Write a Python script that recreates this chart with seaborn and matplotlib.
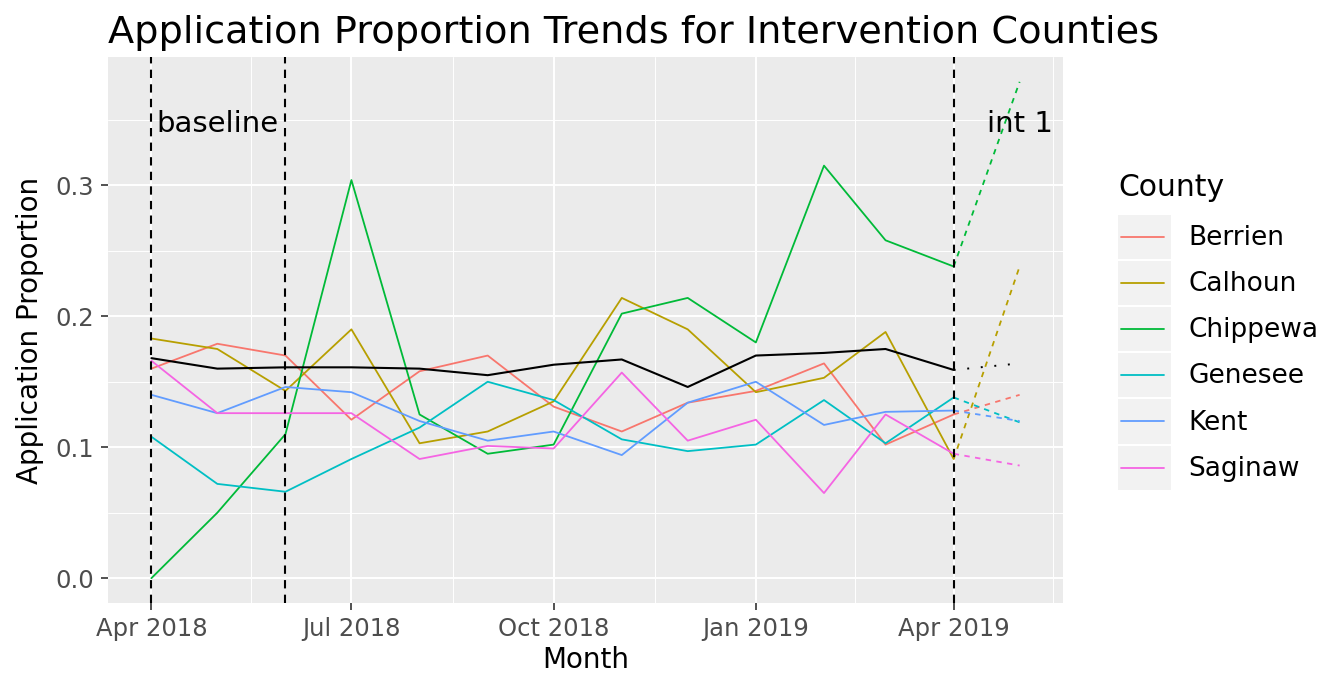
import numpy as np
import pandas as pd
import seaborn as sns
import matplotlib.pyplot as plt
import matplotlib.dates as mdates
from matplotlib.legend_handler import HandlerBase
from matplotlib.lines import Line2D
from matplotlib.patches import Rectangle

# monthly application proportions, Apr 2018 - Apr 2019
months = ["2018-04-01", "2018-05-01", "2018-06-01", "2018-07-01", "2018-08-01",
          "2018-09-01", "2018-10-01", "2018-11-01", "2018-12-01", "2019-01-01",
          "2019-02-01", "2019-03-01", "2019-04-01"]
counties = ["Berrien", "Calhoun", "Chippewa", "Genesee", "Kent", "Saginaw"]

berrien = [0.160, 0.179, 0.170, 0.121, 0.158, 0.170, 0.131, 0.112, 0.134, 0.143, 0.164, 0.102, 0.125]
calhoun = [0.183, 0.175, 0.143, 0.190, 0.103, 0.112, 0.135, 0.214, 0.190, 0.142, 0.153, 0.188, 0.091]
chippewa = [0.000, 0.050, 0.110, 0.304, 0.125, 0.095, 0.102, 0.202, 0.214, 0.180, 0.315, 0.258, 0.238]
genesee = [0.108, 0.072, 0.066, 0.091, 0.115, 0.150, 0.136, 0.106, 0.097, 0.102, 0.136, 0.103, 0.138]
kent = [0.140, 0.126, 0.146, 0.142, 0.120, 0.105, 0.112, 0.094, 0.134, 0.150, 0.117, 0.127, 0.128]
saginaw = [0.166, 0.126, 0.126, 0.126, 0.091, 0.101, 0.099, 0.157, 0.105, 0.121, 0.065, 0.125, 0.095]
overall = [0.168, 0.160, 0.161, 0.161, 0.160, 0.155, 0.163, 0.167, 0.146, 0.170, 0.172, 0.175, 0.159]

# intervention-period projection (Apr 2019 -> May 2019)
proj_months = ["2019-04-01", "2019-05-01"]
berrien_proj = [0.125, 0.140]
calhoun_proj = [0.091, 0.238]
chippewa_proj = [0.238, 0.379]
genesee_proj = [0.138, 0.119]
kent_proj = [0.128, 0.120]
saginaw_proj = [0.095, 0.086]
overall_proj = [0.159, 0.164]

phase_starts = ["2018-04-01", "2018-06-01", "2019-04-01"]
phase_labels = ["baseline", "int 1"]
phase_label_months = ["2018-05-01", "2019-05-01"]
phase_label_y = 0.347

palette = ["#F8766D", "#B79F00", "#00BA38", "#00BFC4", "#619CFF", "#F564E3"]

df = pd.DataFrame({
    "Month": np.tile(pd.to_datetime(months), len(counties)),
    "County": np.repeat(counties, len(months)),
    "Proportion": np.concatenate([berrien, calhoun, chippewa, genesee, kent, saginaw]),
})
proj = pd.DataFrame({
    "Month": np.tile(pd.to_datetime(proj_months), len(counties)),
    "County": np.repeat(counties, len(proj_months)),
    "Proportion": np.concatenate([berrien_proj, calhoun_proj, chippewa_proj,
                                  genesee_proj, kent_proj, saginaw_proj]),
})
avg = pd.DataFrame({"Month": pd.to_datetime(months), "Proportion": overall})
avg_proj = pd.DataFrame({"Month": pd.to_datetime(proj_months), "Proportion": overall_proj})

sns.set_theme(style="darkgrid", rc={
    "axes.facecolor": "#EBEBEB",
    "grid.color": "white",
    "axes.edgecolor": "none",
    "text.color": "black",
    "axes.labelcolor": "black",
})
plt.rcParams["font.family"] = ["DejaVu Sans"]

fig, ax = plt.subplots(figsize=(13.38, 6.77), dpi=100)
fig.subplots_adjust(left=0.0807, right=0.7945, top=0.9158, bottom=0.1093)

sns.lineplot(data=df, x="Month", y="Proportion", hue="County", hue_order=counties,
             palette=palette, lw=1.3, errorbar=None, ax=ax)
sns.lineplot(data=proj, x="Month", y="Proportion", hue="County", hue_order=counties,
             palette=palette, lw=1.3, linestyle=(0, (3, 3)), errorbar=None,
             legend=False, ax=ax)
sns.lineplot(data=avg, x="Month", y="Proportion", color="black", lw=1.5,
             errorbar=None, legend=False, ax=ax)
sns.lineplot(data=avg_proj, x="Month", y="Proportion", color="black", lw=1.4,
             linestyle=(0, (1, 6)), errorbar=None, legend=False, ax=ax)

for d in phase_starts:
    ax.axvline(pd.Timestamp(d), color="black", lw=1.5, linestyle=(0, (4, 3)), zorder=5)
for lab, d in zip(phase_labels, phase_label_months):
    ax.text(pd.Timestamp(d), phase_label_y, lab, ha="center", va="center",
            fontsize=21, color="black", zorder=6)

major = mdates.date2num(pd.to_datetime(["2018-04-01", "2018-07-01", "2018-10-01",
                                        "2019-01-01", "2019-04-01"]))
ax.set_xticks(major)
ax.xaxis.set_major_formatter(mdates.DateFormatter("%b %Y"))
step = np.diff(major)
minor_x = np.concatenate([[major[0] - step[0] / 2], major[:-1] + step / 2,
                          [major[-1] + step[-1] / 2]])
ax.set_xticks(minor_x, minor=True)
ax.set_yticks([0.0, 0.1, 0.2, 0.3])
ax.set_yticks([0.05, 0.15, 0.25, 0.35], minor=True)
ax.yaxis.set_major_formatter(plt.FormatStrFormatter("%.1f"))

# ggplot-like expansion of limits (set after ticks so they don't widen the view)
x0 = mdates.date2num(pd.Timestamp(months[0]))
x1 = mdates.date2num(pd.Timestamp(proj_months[-1]))
xpad = 0.05 * (x1 - x0)
ax.set_xlim(x0 - xpad, x1 + xpad)
ymax = max(chippewa_proj)
ax.set_ylim(-0.05 * ymax, 1.05 * ymax)

ax.grid(which="major", color="white", lw=1.4)
ax.grid(which="minor", color="white", lw=0.7)
ax.tick_params(which="major", length=5, width=1.2, color="#333333",
               labelsize=17.5, labelcolor="#4D4D4D", pad=5,
               bottom=True, left=True)
ax.tick_params(which="minor", length=0)

ax.set_xlabel("Month", fontsize=20, labelpad=4, color="black")
ax.set_ylabel("Application Proportion", fontsize=20, labelpad=8, color="black")
ax.set_title("Application Proportion Trends for Intervention Counties",
             loc="left", fontsize=27.5, pad=10, color="black")


class KeyBox(HandlerBase):
    def create_artists(self, legend, orig_handle, xdescent, ydescent, width,
                       height, fontsize, trans):
        bg = Rectangle((-xdescent, -ydescent), width, height, facecolor="#F2F2F2",
                       edgecolor="none", transform=trans)
        y = -ydescent + height / 2
        ln = Line2D([-xdescent + 0.06 * width, -xdescent + 0.88 * width], [y, y],
                    color=orig_handle.get_color(), lw=1.3, transform=trans)
        return [bg, ln]


handles, labels = ax.get_legend_handles_labels()
ax.get_legend().remove()
leg = fig.legend(handles, labels, title="County", loc="upper left",
                 bbox_to_anchor=(1118 / 1338, 1 - 173 / 677), frameon=False,
                 fontsize=19, title_fontsize=21.5, alignment="left",
                 handlelength=2.0, handleheight=2.2, labelspacing=0.076,
                 handletextpad=0.68, borderpad=0, borderaxespad=0,
                 handler_map={Line2D: KeyBox()})
leg._legend_box.sep = 9
for t in leg.get_texts():
    t.set_color("black")
leg.get_title().set_color("black")

fig.savefig("out.png", dpi=100)
